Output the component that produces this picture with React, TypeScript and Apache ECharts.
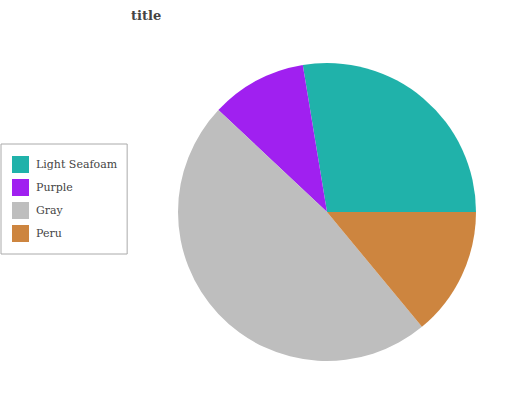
import React, { useEffect, useRef } from "react";
import * as echarts from "echarts";

const categories = ["Light Seafoam", "Purple", "Gray", "Peru"];
const values = [27.6, 10.4, 48.0, 14.0];
const colors = ["#20B2AA", "#A020F0", "#BEBEBE", "#CD853F"];

export default function App() {
  const ref = useRef<HTMLDivElement>(null);
  useEffect(() => {
    if (!ref.current) return;
    const chart = echarts.init(ref.current, null, { renderer: "svg" });
    chart.setOption({
      animation: false,
      title: {
        text: "title",
        left: 131,
        top: 9,
        padding: 0,
        textStyle: { fontFamily: "DejaVu Serif", fontSize: 13, fontWeight: "bold", color: "#444" },
      },
      legend: {
        orient: "vertical",
        left: 1,
        top: 144,
        padding: [12, 10, 12, 11],
        borderColor: "#aaa",
        borderWidth: 1,
        itemWidth: 17,
        itemHeight: 17,
        itemGap: 6,
        icon: "rect",
        data: categories,
        textStyle: { fontFamily: "DejaVu Serif", fontSize: 11, color: "#444", padding: [0, 0, 0, 2] },
      },
      series: [
        {
          type: "pie",
          center: [327, 212],
          radius: 149,
          startAngle: 0,
          clockwise: false,
          label: { show: false },
          labelLine: { show: false },
          emphasis: { disabled: true },
          data: categories.map((c, i) => ({ name: c, value: values[i], itemStyle: { color: colors[i] } })),
        },
      ],
    });
    return () => chart.dispose();
  }, []);
  return <div ref={ref} style={{ width: 532, height: 400, position: "absolute", left: 0, top: 0 }} />;
}
